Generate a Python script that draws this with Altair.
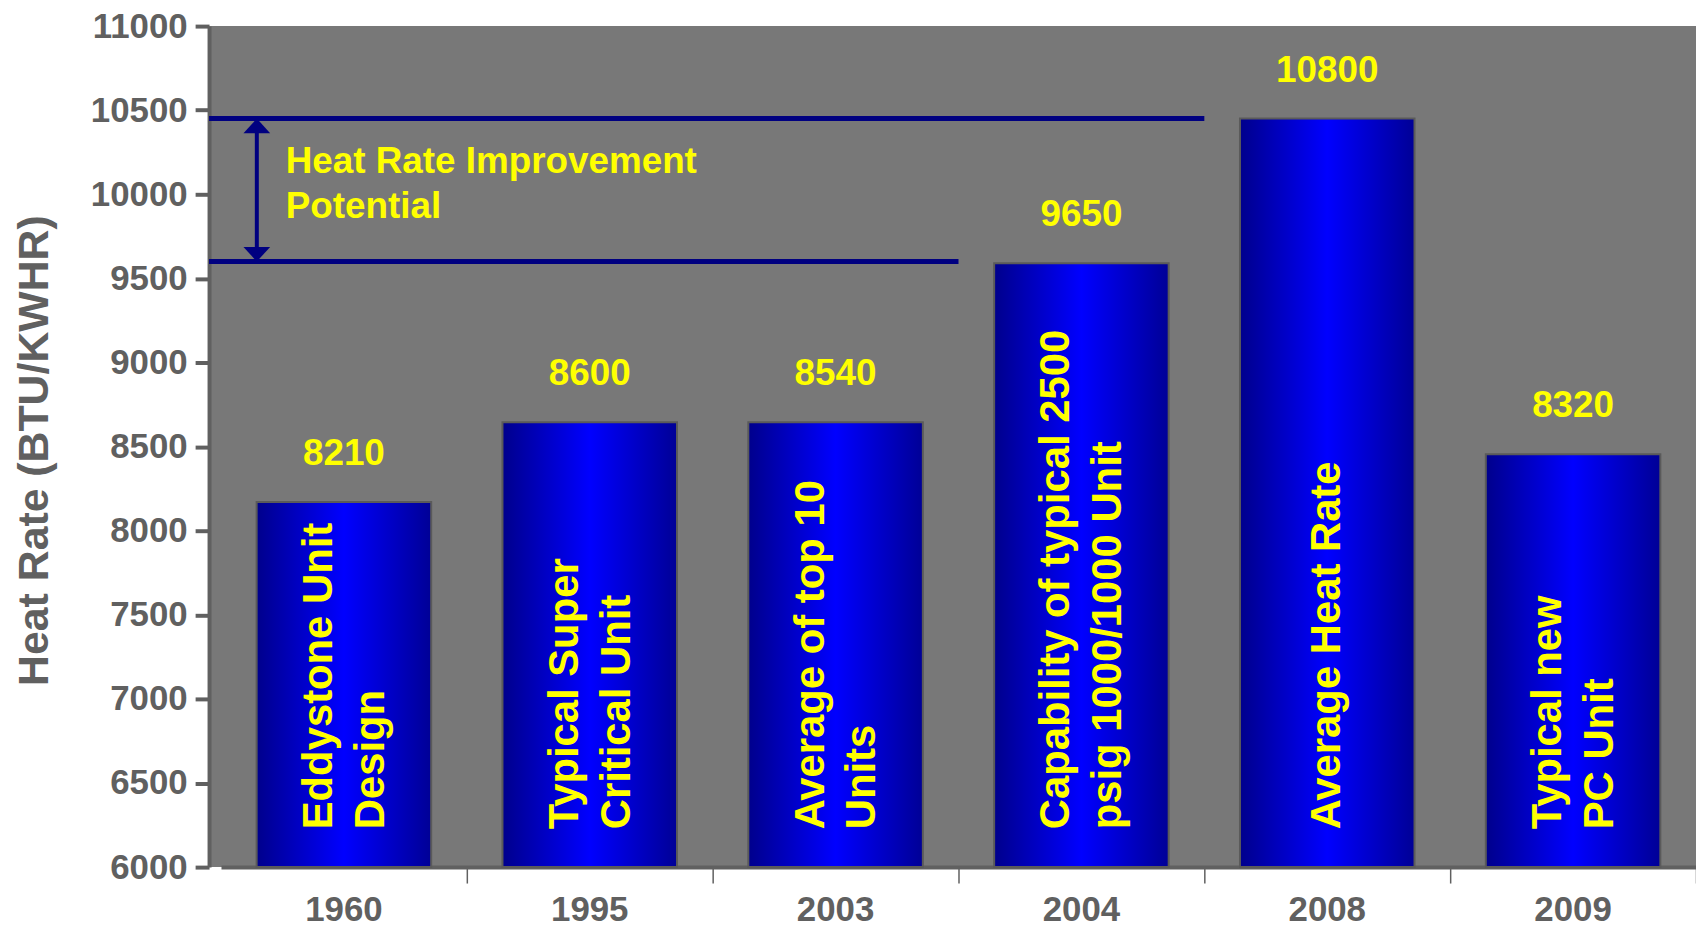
import altair as alt
import pandas as pd

# ---- data ----
years = ["1960", "1995", "2003", "2004", "2008", "2009"]
bar_heights = [8170, 8645, 8645, 9590, 10450, 8455]
value_labels = ["8210", "8600", "8540", "9650", "10800", "8320"]
descriptions = [
    "Eddystone Unit\nDesign",
    "Typical Super\nCritical Unit",
    "Average of top 10\nUnits",
    "Capability of typical 2500\npsig 1000/1000 Unit",
    "Average Heat Rate",
    "Typical new\nPC Unit",
]
potential_bounds = [10450, 9600]
bound_end_years = ["2008", "2004"]
annotation_text = "Heat Rate Improvement\nPotential"
y_ticks = [6000, 6500, 7000, 7500, 8000, 8500, 9000, 9500, 10000, 10500, 11000]
y_title = "Heat Rate (BTU/KWHR)"

FONT = "Liberation Sans"
GRAY = "#606060"
YELLOW = "#FFFF00"
NAVY = "#000080"

df = pd.DataFrame({"year": years, "heat_rate": bar_heights,
                   "label": value_labels, "desc": descriptions})
df["n_lines"] = [d.count("\n") + 1 for d in descriptions]
bounds_df = pd.DataFrame({"bound": potential_bounds, "end_year": bound_end_years})
arrow_df = pd.DataFrame({"hi": [potential_bounds[0]], "lo": [potential_bounds[1]],
                         "note": [annotation_text]})

xscale = alt.Scale(domain=years, range=[12, 1494], paddingInner=0, paddingOuter=0)
yscale = alt.Scale(domain=[6000, 11000], nice=False, zero=False)

x_axis = alt.Axis(title=None, labelAngle=0, labelFontSize=35, labelFont=FONT,
                  labelFontWeight="bold", labelColor=GRAY, labelPadding=10,
                  tickSize=16, tickWidth=1.5, tickColor=GRAY, domainColor=GRAY,
                  domainWidth=4, bandPosition=1)
y_axis = alt.Axis(values=y_ticks, format="d", title=y_title, titleFontSize=43,
                  titleFont=FONT, titleFontWeight="bold", titleColor=GRAY,
                  titleX=-175, titleY=426, titleAngle=270, titleAlign="center",
                  titleBaseline="middle", labelFontSize=35, labelFont=FONT,
                  labelFontWeight="bold", labelColor=GRAY, labelPadding=8,
                  tickSize=14, tickWidth=4, tickColor=GRAY, domainColor=GRAY,
                  domainWidth=4, grid=False, labelOverlap=False)

gradient = alt.Gradient(
    gradient="linear",
    stops=[alt.GradientStop(color="#00008C", offset=0),
           alt.GradientStop(color="#0000FF", offset=0.5),
           alt.GradientStop(color="#000096", offset=1)],
    x1=0, x2=1, y1=0, y2=0,
)

base = alt.Chart(df)

bars = base.mark_bar(
    width=alt.RelativeBandSize(0.71), fill=gradient, stroke="#5a5a5a", strokeWidth=2
).encode(
    x=alt.X("year:N", scale=xscale, axis=x_axis),
    y=alt.Y("heat_rate:Q", scale=yscale, axis=y_axis),
    y2=alt.datum(6000),
)

values = base.mark_text(
    font=FONT, fontSize=37, fontWeight="bold", color=YELLOW, baseline="middle", dy=-48
).encode(x="year:N", y="heat_rate:Q", text="label:N")

desc_style = dict(font=FONT, fontSize=42, fontWeight="bold", color=YELLOW, angle=270,
                  align="left", baseline="middle", dx=38, lineBreak="\n", lineHeight=52)

desc_two = base.transform_filter(alt.datum.n_lines == 2).mark_text(
    dy=-25, **desc_style
).encode(x="year:N", y=alt.datum(6000), text="desc:N")

desc_one = base.transform_filter(alt.datum.n_lines == 1).mark_text(
    dy=0, **desc_style
).encode(x="year:N", y=alt.datum(6000), text="desc:N")

bound_lines = alt.Chart(bounds_df).mark_rule(color=NAVY, strokeWidth=5).encode(
    x=alt.X("end_year:N", bandPosition=0), x2=alt.value(0), y="bound:Q"
)

arrow_base = alt.Chart(arrow_df)
shaft = arrow_base.mark_rule(color=NAVY, strokeWidth=4).encode(
    x=alt.value(48), y="hi:Q", y2="lo:Q"
)
head_up = arrow_base.mark_point(
    shape="M0,0L1,1.1L-1,1.1Z", size=720, filled=True, color=NAVY, opacity=1
).encode(x=alt.value(48), y="hi:Q")
head_down = arrow_base.mark_point(
    shape="M0,0L1,-1.1L-1,-1.1Z", size=720, filled=True, color=NAVY, opacity=1
).encode(x=alt.value(48), y="lo:Q")
note = arrow_base.mark_text(
    font=FONT, fontSize=37, fontWeight="bold", color=YELLOW, align="left",
    baseline="alphabetic", dy=55, lineBreak="\n", lineHeight=45
).encode(x=alt.value(77), y="hi:Q", text="note:N")

chart = alt.layer(
    bars, values, desc_two, desc_one, bound_lines, shaft, head_up, head_down, note
).properties(
    width=1494, height=845,
    padding={"left": 202, "top": 16, "right": 0, "bottom": 60},
    autosize=alt.AutoSizeParams(type="none"),
).configure(background="white").configure_view(fill="#787878", strokeWidth=0)

chart.save("out.html", embed_options={"renderer": "svg", "actions": False})
